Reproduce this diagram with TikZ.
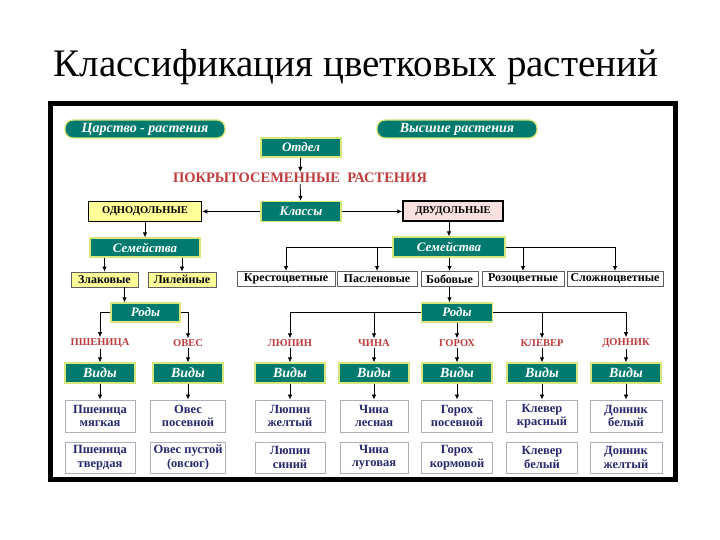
\documentclass[tikz,border=0pt]{standalone}
\usepackage{fontspec}
\setmainfont{Liberation Serif}
\usetikzlibrary{arrows.meta,calc}
\definecolor{tealbox}{RGB}{0,122,110}
\definecolor{tealedge}{RGB}{215,232,120}
\definecolor{yelbox}{RGB}{255,255,153}
\definecolor{pinkbox}{RGB}{248,224,224}
\definecolor{redlab}{RGB}{190,60,60}
\definecolor{navytxt}{RGB}{40,40,110}
\definecolor{famedge}{RGB}{95,95,95}
\definecolor{spedge}{RGB}{175,175,185}
\tikzset{
  tealnode/.style={fill=tealbox,draw=tealedge,line width=1.3pt,text=white,
    font=\fontsize{13}{14}\selectfont\bfseries\itshape,inner sep=0pt},
  kingbox/.style={tealnode,rounded corners=8pt,minimum width=160pt,minimum height=18pt,
    font=\fontsize{14}{15}\selectfont\bfseries\itshape},
  classbox/.style={draw=black,line width=1.5pt,inner sep=0pt,minimum height=20pt,
    font=\fontsize{10.5}{11}\selectfont\bfseries},
  lilybox/.style={fill=yelbox,draw=famedge,line width=0.9pt,inner sep=0pt,minimum height=15pt,
    font=\fontsize{12}{13}\selectfont\bfseries},
  fambox/.style={fill=white,draw=famedge,line width=1pt,inner sep=0pt,minimum height=15pt,
    font=\fontsize{12}{13}\selectfont\bfseries},
  redlabel/.style={text=redlab,font=\fontsize{10.5}{11}\selectfont\bfseries,inner sep=1pt},
  vidybox/.style={tealnode,minimum width=70pt,minimum height=20pt,
    font=\fontsize{14}{15}\selectfont\bfseries\itshape},
  spbox/.style={fill=white,draw=spedge,line width=0.9pt,inner sep=0pt,text=navytxt,
    align=center,font=\fontsize{12.5}{13.5}\selectfont\bfseries},
  arr/.style={draw=black,line width=0.8pt,-{Latex[length=5pt,width=4.5pt]}},
}
\begin{document}
\begin{tikzpicture}[x=1pt,y=-1pt]
\useasboundingbox (0,0) rectangle (720,540);
\fill[white] (0,0) rectangle (720,540);
% title
\node[font=\fontsize{39}{42}\selectfont] (title) at (356,67) {Классификация цветковых растений};
% frame
\draw[line width=5pt] (50.5,103.5) rectangle (675.5,479.5);
% top
\node[kingbox] (tsar) at (145,129) {Царство - растения};
\node[kingbox] (vyssh) at (457,129) {Высшие растения};
\node[tealnode,minimum width=80pt,minimum height=19pt] (otdel) at (301,147.5) {Отдел};
\node[text=redlab,font=\fontsize{14.5}{15}\selectfont\bfseries,inner sep=1pt] (pokr) at (300,178) {ПОКРЫТОСЕМЕННЫЕ\ \ РАСТЕНИЯ};
\node[tealnode,minimum width=80pt,minimum height=20pt] (klassy) at (301,211.5) {Классы};
\node[classbox,fill=yelbox,minimum width=113pt] (odno) at (145,211.5) {ОДНОДОЛЬНЫЕ};
\node[classbox,fill=pinkbox,minimum width=100pt] (dvu) at (453,211) {ДВУДОЛЬНЫЕ};
\draw[arr] (otdel) -- (pokr);
\draw[arr] (pokr) -- (klassy);
\draw[arr] (klassy) -- (odno);
\draw[arr] (klassy.east) -- (klassy.east -| dvu.west);
% left branch
\node[tealnode,minimum width=110pt,minimum height=19pt] (sem1) at (145,247.5) {Семейства};
\node[lilybox,minimum width=67pt] (zlak) at (104.5,279.5) {Злаковые};
\node[lilybox,minimum width=68pt] (lil) at (182,279.5) {Лилейные};
\node[tealnode,minimum width=69pt,minimum height=19pt] (rody1) at (145.5,312.5) {Роды};
\draw[arr] (odno) -- (sem1);
\draw[arr] (sem1.south -| zlak.north) -- (zlak.north);
\draw[arr] (sem1.south -| lil.north) -- (lil.north);
\draw[arr] ([xshift=20pt]zlak.south) -- ([xshift=20pt]zlak.south |- rody1.north);
% right branch
\node[tealnode,minimum width=112pt,minimum height=20pt] (sem2) at (449,247) {Семейства};
\node[fambox,minimum width=98pt] (krest) at (286,279) {Крестоцветные};
\node[fambox,minimum width=80pt] (pasl) at (377,279) {Пасленовые};
\node[fambox,minimum width=57pt] (bob) at (449.5,279) {Бобовые};
\node[fambox,minimum width=82pt] (roz) at (523,279) {Розоцветные};
\node[fambox,minimum width=96pt] (slozh) at (615,279) {Сложноцветные};
\node[tealnode,minimum width=71pt,minimum height=19pt] (rody2) at (457,312.5) {Роды};
\draw[arr] (dvu.south -| sem2.north) -- (sem2.north);
\draw[arr] (sem2.west) -| (krest.north);
\draw[arr] (sem2.west -| pasl.north) -- (pasl.north);
\draw[arr] (sem2.south -| bob.north) -- (bob.north);
\draw[arr] (sem2.east) -| (slozh.north);
\draw[arr] (sem2.east -| roz.north) -- (roz.north);
\draw[arr] (bob.south) -- (bob.south |- rody2.north);
% genera labels
\node[redlabel] (pshen) at (100,343) {ПШЕНИЦА};
\node[redlabel] (oves) at (188,343) {ОВЕС};
\node[redlabel] (lyup) at (290,343) {ЛЮПИН};
\node[redlabel] (china) at (374,343) {ЧИНА};
\node[redlabel] (gorokh) at (457,343) {ГОРОХ};
\node[redlabel] (klever) at (542,343) {КЛЕВЕР};
\node[redlabel] (donnik) at (626,343) {ДОННИК};
\draw[arr] (rody1.west) -| (pshen.north);
\draw[arr] (rody1.east) -| (oves.north);
\draw[arr] (rody2.west) -| (lyup.north);
\draw[arr] (rody2.west -| china.north) -- (china.north);
\draw[arr] (rody2.south) -- (gorokh.north);
\draw[arr] (rody2.east) -| (donnik.north);
\draw[arr] (rody2.east -| klever.north) -- (klever.north);
% vidy
\foreach \n/\x in {1/100,2/188,3/290,4/374,5/457,6/542,7/626}{
  \node[vidybox] (vidy\n) at (\x,373) {Виды};
}
\foreach \l/\n in {pshen/1,oves/2,lyup/3,china/4,gorokh/5,klever/6,donnik/7}{
  \draw[arr] (\l.south) -- (vidy\n.north);
}
% species
\node[spbox,minimum width=70pt,minimum height=32pt] (s1a) at (100,416) {Пшеница\\мягкая};
\node[spbox,minimum width=75pt,minimum height=32pt] (s2a) at (188,416) {Овес\\посевной};
\node[spbox,minimum width=70pt,minimum height=32pt] (s3a) at (290,416) {Люпин\\желтый};
\node[spbox,minimum width=68pt,minimum height=32pt] (s4a) at (374,416) {Чина\\лесная};
\node[spbox,minimum width=71pt,minimum height=32pt] (s5a) at (457,416) {Горох\\посевной};
\node[spbox,minimum width=71pt,minimum height=32pt] (s6a) at (542,416) {Клевер\\красный};
\node[spbox,minimum width=72pt,minimum height=32pt] (s7a) at (626,416) {Донник\\белый};
\node[spbox,minimum width=70pt,minimum height=31pt] (s1b) at (100,457.5) {Пшеница\\твердая};
\node[spbox,minimum width=75pt,minimum height=31pt] (s2b) at (188,457.5) {Овес пустой\\(овсюг)};
\node[spbox,minimum width=70pt,minimum height=31pt] (s3b) at (290,457.5) {Люпин\\синий};
\node[spbox,minimum width=68pt,minimum height=31pt] (s4b) at (374,457.5) {Чина\\луговая};
\node[spbox,minimum width=71pt,minimum height=31pt] (s5b) at (457,457.5) {Горох\\кормовой};
\node[spbox,minimum width=71pt,minimum height=31pt] (s6b) at (542,457.5) {Клевер\\белый};
\node[spbox,minimum width=72pt,minimum height=31pt] (s7b) at (626,457.5) {Донник\\желтый};
\foreach \n in {1,...,7}{
  \draw[arr] (vidy\n.south) -- (s\n a.north);
}
\end{tikzpicture}
\end{document}
